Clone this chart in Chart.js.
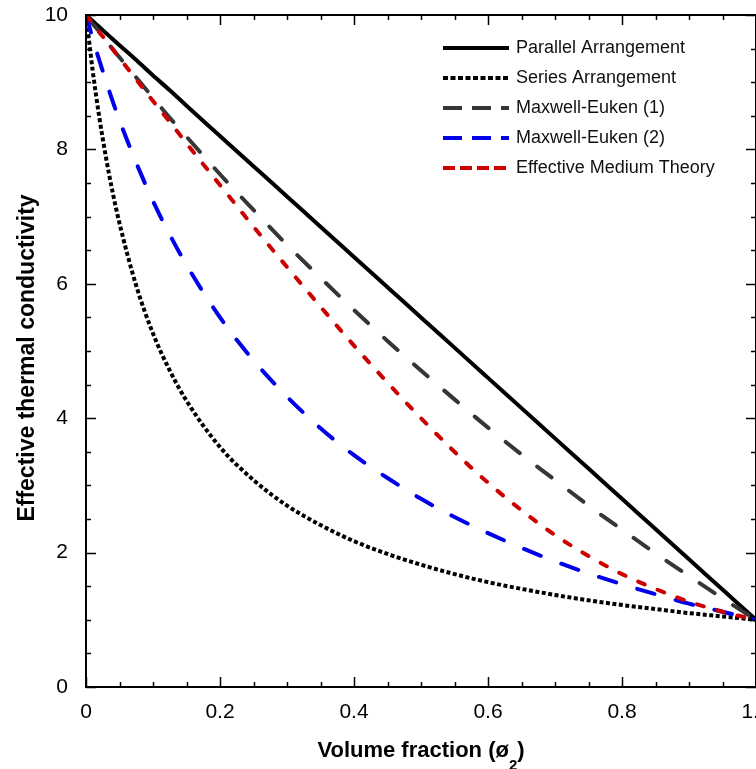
<!DOCTYPE html>
<html>
<head>
<meta charset="utf-8">
<script src="https://cdn.jsdelivr.net/npm/chart.js@4.4.1/dist/chart.umd.min.js"></script>
<style>
  html, body { margin: 0; padding: 0; background: #fff; overflow: hidden; }
  #wrap { position: absolute; left: 0; top: 0; width: 790px; height: 769px; }
</style>
</head>
<body>
<div id="wrap"><canvas id="myChart" width="790" height="769"></canvas></div>
<script>
// volume fraction values (x)
var fraction = [0, 0.01, 0.02, 0.03, 0.04, 0.05, 0.075, 0.1, 0.125, 0.15, 0.2, 0.25, 0.3, 0.35, 0.4, 0.45, 0.5, 0.55, 0.6, 0.65, 0.7, 0.75, 0.8, 0.85, 0.9, 0.95, 1.0];

var parallel = [10, 9.91, 9.82, 9.73, 9.64, 9.55, 9.33, 9.1, 8.88, 8.65, 8.2, 7.75, 7.3, 6.85, 6.4, 5.95, 5.5, 5.05, 4.6, 4.15, 3.7, 3.25, 2.8, 2.35, 1.9, 1.45, 1.0];
var series = [10, 9.17, 8.47, 7.87, 7.35, 6.9, 5.97, 5.26, 4.71, 4.26, 3.57, 3.08, 2.7, 2.41, 2.17, 1.98, 1.82, 1.68, 1.56, 1.46, 1.37, 1.29, 1.22, 1.16, 1.1, 1.05, 1.0];
var maxwell1 = [10, 9.87, 9.75, 9.62, 9.49, 9.37, 9.07, 8.77, 8.47, 8.19, 7.63, 7.1, 6.58, 6.09, 5.61, 5.15, 4.71, 4.28, 3.86, 3.46, 3.08, 2.7, 2.34, 1.99, 1.65, 1.32, 1.0];
var maxwell2 = [10, 9.65, 9.32, 9.01, 8.71, 8.43, 7.8, 7.23, 6.73, 6.28, 5.5, 4.86, 4.32, 3.85, 3.45, 3.11, 2.8, 2.53, 2.29, 2.07, 1.87, 1.69, 1.53, 1.38, 1.24, 1.12, 1.0];
var emt = [10, 9.87, 9.74, 9.62, 9.49, 9.36, 9.04, 8.72, 8.41, 8.09, 7.47, 6.85, 6.25, 5.66, 5.08, 4.53, 4.0, 3.5, 3.04, 2.63, 2.26, 1.95, 1.68, 1.46, 1.27, 1.12, 1.0];

var labels = ["Parallel Arrangement", "Series Arrangement", "Maxwell-Euken (1)", "Maxwell-Euken (2)", "Effective Medium Theory"];
var colors = ["#000000", "#000000", "#363636", "#0000ea", "#cc0000"];
var dashes = [[], [4, 2.5], [18, 22], [18, 22], [7, 14]];
var caps = ["butt", "butt", "round", "round", "round"];
var legendDashes = [[], [5, 2.5], [19, 10], [19, 10], [12, 5]];

var FONT = '"Liberation Sans", Arial, Helvetica, sans-serif';

function points(ys) {
	return fraction.map(function (x, i) {
		return { x: x, y: ys[i] };
	});
}

var allSeries = [parallel, series, maxwell1, maxwell2, emt];
var datasets = allSeries.map(function (ys, i) {
	return {
		label: labels[i],
		data: points(ys),
		borderColor: colors[i],
		borderWidth: 4,
		borderDash: dashes[i],
		borderCapStyle: caps[i],
		pointRadius: 0,
		fill: false,
		cubicInterpolationMode: "monotone",
		order: 5 - i,
	};
});

// frame, inward ticks, legend, axis titles
const framePlugin = {
	id: "frame",
	afterDraw: function (chart) {
		const ctx = chart.ctx;
		const a = chart.chartArea;
		const xs = chart.scales.x;
		const ys = chart.scales.y;
		ctx.save();
		ctx.strokeStyle = "#000";
		ctx.lineWidth = 2;
		ctx.setLineDash([]);
		ctx.strokeRect(a.left, a.top, a.right - a.left, a.bottom - a.top);

		ctx.lineWidth = 1.5;
		ctx.beginPath();
		for (let i = 0; i <= 20; i++) {
			const v = i * 0.05;
			const px = Math.round(xs.getPixelForValue(v)) + 0.5;
			const len = i % 4 == 0 ? 10 : 5;
			ctx.moveTo(px, a.bottom);
			ctx.lineTo(px, a.bottom - len);
			ctx.moveTo(px, a.top);
			ctx.lineTo(px, a.top + len);
		}
		for (let i = 0; i <= 20; i++) {
			const v = i * 0.5;
			const py = Math.round(ys.getPixelForValue(v)) + 0.5;
			const len = i % 4 == 0 ? 10 : 5;
			ctx.moveTo(a.left, py);
			ctx.lineTo(a.left + len, py);
			ctx.moveTo(a.right, py);
			ctx.lineTo(a.right - len, py);
		}
		ctx.stroke();

		// legend
		const lx = a.right - 313;
		chart.data.datasets.forEach(function (ds, i) {
			const ly = a.top + 33 + i * 30;
			ctx.strokeStyle = ds.borderColor;
			ctx.lineWidth = ds.borderWidth;
			ctx.lineCap = "butt";
			ctx.setLineDash(legendDashes[i]);
			ctx.beginPath();
			ctx.moveTo(lx, ly);
			ctx.lineTo(lx + 66, ly);
			ctx.stroke();
			ctx.setLineDash([]);
			ctx.fillStyle = "#111";
			ctx.font = "18px " + FONT;
			ctx.textBaseline = "middle";
			ctx.textAlign = "left";
			ctx.fillText(ds.label, lx + 73, ly);
		});

		// x title with subscript
		ctx.fillStyle = "#000";
		ctx.textBaseline = "alphabetic";
		ctx.textAlign = "left";
		const main = "Volume fraction (ø";
		const bigFont = "bold 22px " + FONT;
		const subFont = "bold 15px " + FONT;
		ctx.font = bigFont;
		const w1 = ctx.measureText(main).width;
		const w3 = ctx.measureText(")").width;
		ctx.font = subFont;
		const w2 = ctx.measureText("2").width;
		const cx = (a.left + a.right) / 2;
		let tx = cx - (w1 + w2 + w3) / 2;
		ctx.font = bigFont;
		ctx.fillText(main, tx, 757);
		ctx.font = subFont;
		ctx.fillText("2", tx + w1, 770);
		ctx.font = bigFont;
		ctx.fillText(")", tx + w1 + w2, 757);

		// y title
		ctx.translate(34, (a.top + a.bottom) / 2 + 7);
		ctx.rotate(-Math.PI / 2);
		ctx.textAlign = "center";
		ctx.font = "bold 23px " + FONT;
		ctx.fillText("Effective thermal conductivity", 0, 0);
		ctx.restore();
	},
};

const config = {
	type: "line",
	data: { datasets: datasets },
	options: {
		responsive: false,
		animation: false,
		layout: { padding: { top: 15, right: 34, left: 0, bottom: 0 } },
		plugins: {
			legend: { display: false },
			tooltip: { enabled: false },
		},
		scales: {
			x: {
				type: "linear",
				min: 0,
				max: 1,
				grid: { display: false, drawTicks: false },
				border: { display: false },
				ticks: {
					stepSize: 0.2,
					padding: 13,
					color: "#000",
					font: { family: FONT, size: 21 },
				},
				afterFit: function (scale) {
					scale.height = 82;
					scale.paddingLeft = 0;
					scale.paddingRight = 0;
				},
			},
			y: {
				min: 0,
				max: 10,
				grid: { display: false, drawTicks: false },
				border: { display: false },
				ticks: {
					stepSize: 2,
					padding: 18,
					color: "#000",
					font: { family: FONT, size: 21 },
				},
				afterFit: function (scale) {
					scale.width = 86;
					scale.paddingTop = 0;
					scale.paddingBottom = 0;
				},
			},
		},
	},
	plugins: [framePlugin],
};

const myChart = new Chart(document.getElementById("myChart"), config);
</script>
</body>
</html>
